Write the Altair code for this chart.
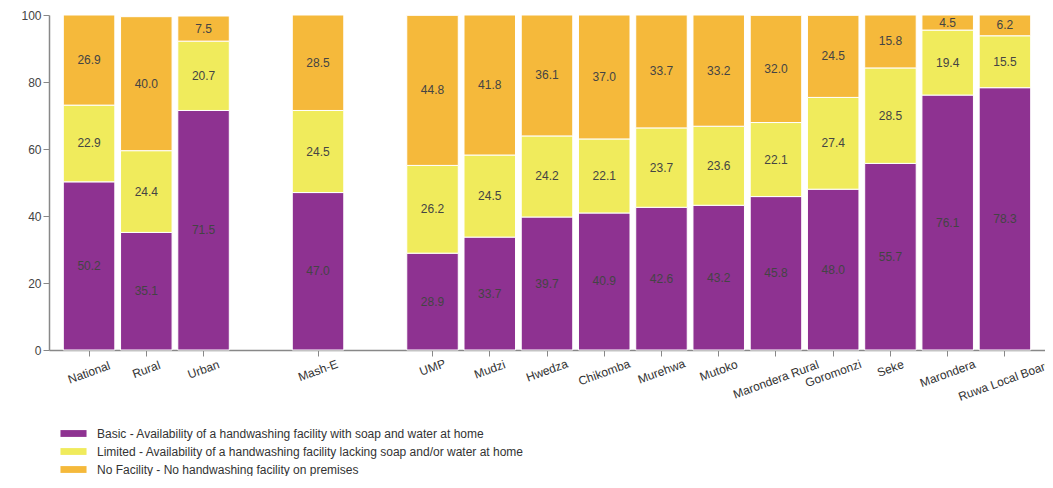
import altair as alt
import pandas as pd

categories = ["National", "Rural", "Urban", "Mash-E", "UMP", "Mudzi", "Hwedza",
              "Chikomba", "Murehwa", "Mutoko", "Marondera Rural", "Goromonzi",
              "Seke", "Marondera", "Ruwa Local Board"]
domain_order = ["National", "Rural", "Urban", "gap1", "Mash-E", "gap2", "UMP", "Mudzi",
                "Hwedza", "Chikomba", "Murehwa", "Mutoko", "Marondera Rural",
                "Goromonzi", "Seke", "Marondera", "Ruwa Local Board"]
basic = [50.2, 35.1, 71.5, 47.0, 28.9, 33.7, 39.7, 40.9, 42.6, 43.2, 45.8, 48.0, 55.7, 76.1, 78.3]
limited = [22.9, 24.4, 20.7, 24.5, 26.2, 24.5, 24.2, 22.1, 23.7, 23.6, 22.1, 27.4, 28.5, 19.4, 15.5]
no_facility = [26.9, 40.0, 7.5, 28.5, 44.8, 41.8, 36.1, 37.0, 33.7, 33.2, 32.0, 24.5, 15.8, 4.5, 6.2]

series_names = [
    "Basic - Availability of a handwashing facility with soap and water at home",
    "Limited - Availability of a handwashing facility lacking soap and/or water at home",
    "No Facility - No handwashing facility on premises",
]
colors = ["#8E3291", "#F0EB5C", "#F5B93B"]

rows = []
for i, c in enumerate(categories):
    for k, vals in enumerate([basic, limited, no_facility]):
        rows.append({"cat": c, "series": series_names[k], "ord": k, "value": vals[i]})
df = pd.DataFrame(rows)

base = alt.Chart(df).transform_stack(
    stack="value", groupby=["cat"], as_=["y0", "y1"], sort=[alt.SortField("ord")]
).transform_calculate(mid="(datum.y0 + datum.y1) / 2")

xscale = alt.Scale(domain=domain_order, paddingInner=0.1, paddingOuter=0.25)

x = alt.X("cat:N", scale=xscale,
          axis=alt.Axis(values=categories, title=None, labelAngle=-20, labelAlign="center",
                        labelBaseline="middle", labelFontSize=12, labelColor="#333",
                        tickSize=6, tickColor="#888", domainColor="#888", domainWidth=1.5,
                        labelPadding={"condition": {"test": "false", "value": 0},
                                      "expr": "8 + length(datum.label)"},
                        labelFont="Liberation Sans", labelLimit=0))

bars = base.mark_bar(stroke="white", strokeWidth=1).encode(
    x=x,
    y=alt.Y("y0:Q", scale=alt.Scale(domain=[0, 100]),
            axis=alt.Axis(values=[0, 20, 40, 60, 80, 100], title=None, grid=False,
                          labelFontSize=12, labelColor="#444", tickSize=6, tickColor="#888",
                          domainColor="#888", domainWidth=1.5, labelFont="Liberation Sans")),
    y2="y1:Q",
    color=alt.Color("series:N", scale=alt.Scale(domain=series_names, range=colors),
                    legend=alt.Legend(title=None, orient="none", legendX=18, legendY=412,
                                      direction="vertical", padding=0,
                                      symbolType="M-2.1,-0.55H2.1V0.55H-2.1Z", symbolSize=154,
                                      symbolStrokeWidth=0, labelFontSize=12, labelColor="#333",
                                      labelFont="Liberation Sans", rowPadding=5,
                                      labelOffset=17, labelLimit=0)),
)

labels = base.mark_text(fontSize=12, color="#444", font="Liberation Sans").encode(
    x=alt.X("cat:N", scale=xscale),
    y=alt.Y("mid:Q"),
    text=alt.Text("value:Q", format=".1f"),
)

chart = alt.layer(bars, labels).properties(
    width=996, height=335,
    padding={"left": 41, "top": 7, "right": 0, "bottom": 126},
    autosize=alt.AutoSizeParams(type="none"),
).configure_view(stroke=None)

chart.save("out.html", embed_options={"renderer": "svg", "actions": False})
